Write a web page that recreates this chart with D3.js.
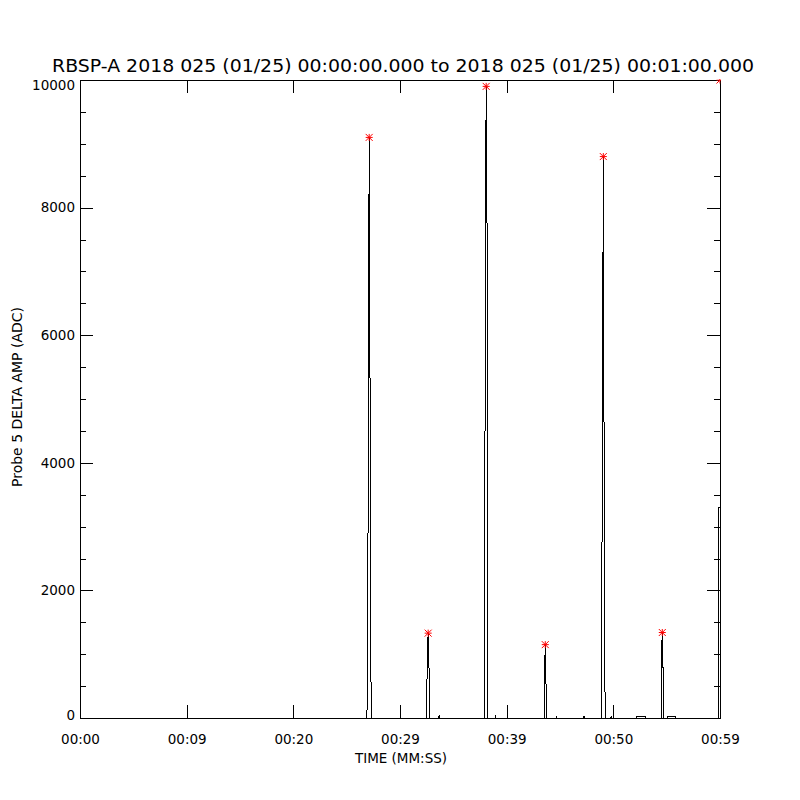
<!DOCTYPE html>
<html>
<head>
<meta charset="utf-8">
<script src="https://cdn.jsdelivr.net/npm/d3@7"></script>
<style>
  html, body { margin: 0; padding: 0; background: #fff; }
  svg { display: block; }
  text { font-family: "DejaVu Sans", sans-serif; fill: #000; }
</style>
</head>
<body>
<div id="chart"></div>
<script>
// ---- data ----
const titleText = "RBSP-A 2018 025 (01/25) 00:00:00.000 to 2018 025 (01/25) 00:01:00.000";
const xTitle = "TIME (MM:SS)";
const yTitle = "Probe 5 DELTA AMP (ADC)";

const xTickValues = [0, 10, 20, 30, 40, 50, 60];
const xTickLabels = ["00:00", "00:09", "00:20", "00:29", "00:39", "00:50", "00:59"];
const yTickValues = [0, 2000, 4000, 6000, 8000, 10000];
const yTickLabels = ["0", "2000", "4000", "6000", "8000", "10000"];
const yMinorStep = 500;

// time (s) and amplitude (ADC) samples of the trace
const times = [0, 26.88, 26.93, 27.02, 27.11, 27.19, 27.27, 27.33,
  32.52, 32.54, 32.64, 32.72, 32.75,
  33.62, 33.66, 33.70,
  37.95, 37.98, 38.08, 38.17, 38.21,
  38.94, 38.97, 39.00,
  43.51, 43.54, 43.62, 43.70, 43.73,
  44.66, 44.69, 44.72,
  47.22, 47.25, 47.28,
  48.85, 48.87, 48.97, 49.06, 49.12, 49.20, 49.27,
  49.76, 49.79, 49.82,
  52.18, 52.22, 52.97, 53.01,
  54.48, 54.50, 54.59, 54.66, 54.69,
  55.05, 55.09, 55.78, 55.82,
  59.86, 59.90, 60.00];
const amps = [0, 0, 220, 3570, 9100, 5270, 710, 0,
  0, 890, 1330, 780, 0,
  0, 40, 0,
  0, 6400, 9900, 7400, 0,
  0, 40, 0,
  0, 600, 1150, 420, 0,
  0, 30, 0,
  0, 30, 0,
  0, 290, 3860, 8800, 4970, 570, 0,
  0, 30, 0,
  0, 25, 25, 0,
  0, 930, 1340, 770, 0,
  0, 25, 25, 0,
  0, 3300, 3300];

// peak markers
const peakTimes = [27.11, 32.64, 38.08, 43.62, 49.06, 54.59, 60.0];
const peakValues = [9100, 1330, 9900, 1150, 8800, 1340, 10000];

// ---- layout ----
const W = 800, H = 800;
const mLeft = 80, mRight = 720, mTop = 80, mBottom = 718;
const majorLen = 13, minorLen = 6;
const tickFont = 13.5;

const svg = d3.select("#chart").append("svg")
  .attr("width", W).attr("height", H);

const x = d3.scaleLinear().domain([0, 60]).range([mLeft, mRight]);
const y = d3.scaleLinear().domain([0, 10000]).range([mBottom, mTop]);

svg.append("defs").append("clipPath").attr("id", "plotclip")
  .append("rect").attr("x", mLeft).attr("y", mTop - 0.5)
  .attr("width", mRight - mLeft + 0.5).attr("height", mBottom - mTop + 1);

// title
svg.append("text")
  .attr("x", (mLeft + mRight) / 2 + 3).attr("y", 72)
  .attr("text-anchor", "middle")
  .attr("font-size", 17)
  .attr("textLength", 702).attr("lengthAdjust", "spacingAndGlyphs")
  .text(titleText);

// data line
const data = times.map((t, i) => ({ t, v: amps[i] }));
const line = d3.line().x(d => x(d.t)).y(d => y(d.v));
const plotG = svg.append("g").attr("clip-path", "url(#plotclip)");
plotG.append("path").datum(data)
  .attr("d", line)
  .attr("fill", "none").attr("stroke", "#000").attr("stroke-width", 1)
  .attr("shape-rendering", "crispEdges");

const yMinor = d3.range(0, 10000 + 1, yMinorStep).filter(v => !yTickValues.includes(v));

// bottom axis
const xB = d3.axisBottom(x).tickValues(xTickValues).tickSize(-majorLen)
  .tickFormat((d, i) => xTickLabels[i]).tickPadding(16);
const gB = svg.append("g").attr("transform", `translate(0,${mBottom})`).call(xB);
// top axis
const xT = d3.axisTop(x).tickValues(xTickValues).tickSize(-majorLen).tickFormat("");
const gT = svg.append("g").attr("transform", `translate(0,${mTop})`).call(xT);
// left axis
const yL = d3.axisLeft(y).tickValues(yTickValues).tickSize(-majorLen)
  .tickFormat((d, i) => yTickLabels[i]).tickPadding(5);
const gL = svg.append("g").attr("transform", `translate(${mLeft},0)`).call(yL);
const yLm = d3.axisLeft(y).tickValues(yMinor).tickSize(-minorLen).tickFormat("");
const gLm = svg.append("g").attr("transform", `translate(${mLeft},0)`).call(yLm);
// right axis
const yR = d3.axisRight(y).tickValues(yTickValues).tickSize(-majorLen).tickFormat("");
const gR = svg.append("g").attr("transform", `translate(${mRight},0)`).call(yR);
const yRm = d3.axisRight(y).tickValues(yMinor).tickSize(-minorLen).tickFormat("");
const gRm = svg.append("g").attr("transform", `translate(${mRight},0)`).call(yRm);

[gB, gT, gL, gLm, gR, gRm].forEach(g => {
  g.attr("shape-rendering", "crispEdges");
  g.selectAll("path.domain").attr("stroke", "#000").attr("stroke-width", 1);
  g.selectAll(".tick line").attr("stroke", "#000").attr("stroke-width", 1);
  g.selectAll(".tick text").attr("font-family", "DejaVu Sans, sans-serif")
    .attr("font-size", tickFont).attr("fill", "#000");
});
// IDL nudges end labels inside the axis range
gL.selectAll(".tick text").attr("dy", d => d === 10000 ? "0.7em" : (d === 0 ? "0.1em" : "0.32em"));

// peak stars (asterisk)
const starR = 3.5;
const starG = svg.append("g").attr("clip-path", "url(#plotclip)")
  .attr("stroke", "#ff0000").attr("stroke-width", 1);
peakTimes.forEach((t, i) => {
  const cx = x(t), cy = y(peakValues[i]);
  const g = starG.append("g").attr("transform", `translate(${cx},${cy})`);
  g.append("line").attr("x1", -starR).attr("x2", starR).attr("y1", 0).attr("y2", 0);
  g.append("line").attr("x1", 0).attr("x2", 0).attr("y1", -starR).attr("y2", starR);
  g.append("line").attr("x1", -starR).attr("x2", starR).attr("y1", -starR).attr("y2", starR);
  g.append("line").attr("x1", -starR).attr("x2", starR).attr("y1", starR).attr("y2", -starR);
});

// axis titles
svg.append("text")
  .attr("x", (mLeft + mRight) / 2 + 1).attr("y", 763)
  .attr("text-anchor", "middle").attr("font-size", 13.5)
  .attr("textLength", 92).attr("lengthAdjust", "spacingAndGlyphs")
  .text(xTitle);
svg.append("text")
  .attr("transform", `translate(22,${(mTop + mBottom) / 2 - 2}) rotate(-90)`)
  .attr("text-anchor", "middle").attr("font-size", 14)
  .attr("textLength", 180).attr("lengthAdjust", "spacingAndGlyphs")
  .text(yTitle);
</script>
</body>
</html>
